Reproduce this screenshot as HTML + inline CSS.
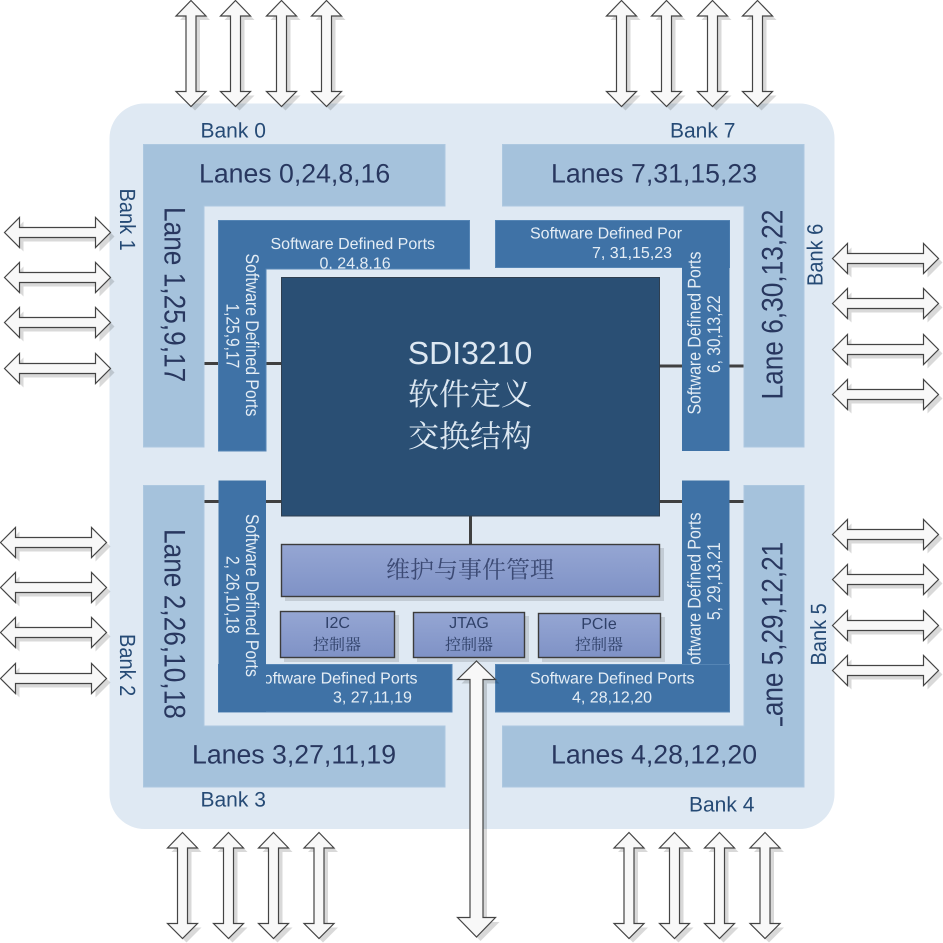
<!DOCTYPE html>
<html><head><meta charset="utf-8">
<style>
html,body{margin:0;padding:0;background:#fff}
svg{display:block}
text{font-family:"Liberation Sans","Noto Sans CJK SC",sans-serif;text-rendering:geometricPrecision}
.lane{font-size:26.67px;fill:#28375f}
.bank{font-size:21px;fill:#254a75}
.bankv{font-size:20px;fill:#254a75}
.port{font-size:16px;fill:#e4edf5}
.cjk{font-family:"Noto Serif CJK SC","Liberation Serif",serif}
.ctl{font-size:16px;fill:#2f4068}
.l{fill:#a5c2dc;stroke:#adc8e0;stroke-width:1}
.p{fill:#3f72a6;stroke:#5585b5;stroke-width:1}
.w{stroke:#404040;stroke-width:3;fill:none}
.b{fill:url(#g);stroke:#3c3c3c;stroke-width:1.4}
.s{fill:#000;opacity:.12}
</style></head>
<body>
<svg width="943" height="943" viewBox="0 0 943 943" xmlns="http://www.w3.org/2000/svg">
<defs>
<linearGradient id="g" x1="0" y1="0" x2="0" y2="1"><stop offset="0" stop-color="#95a6d3"/><stop offset="1" stop-color="#7f92c6"/></linearGradient>
<clipPath id="c0"><rect x="218" y="220" width="252" height="49"/></clipPath>
<path id="ap" d="M0 0L15 15.5L5 15.5L5 91L15 91L0 106L-15 91L-5 91L-5 15.5L-15 15.5Z"/>
<path id="hp" d="M0 0L15 -15V-5H91V-15L106 0L91 15V5H15V15Z"/>
<g id="a"><use href="#ap" x="4" y="4" fill="#000" opacity=".15"/><use href="#ap" fill="#f8f8f8" stroke="#444" stroke-width="1.2"/></g>
<g id="h"><use href="#hp" x="4" y="4" fill="#000" opacity=".15"/><use href="#hp" fill="#f8f8f8" stroke="#444" stroke-width="1.2"/></g>
</defs>

<rect x="109.500" y="103.500" width="725" height="725.500" rx="35" ry="35" fill="#dfe9f3"/>

<!-- connectors -->
<path class="w" d="M204 363.500H281M660 366H744M204 501.500H281M660 501.500H744M470.500 516V545"/>

<!-- lanes -->
<path class="l" d="M143.500 144.500H445V206H204V447H143.500Z"/>
<path class="l" d="M502.500 144.500H804V447H744V206H502.500Z"/>
<path class="l" d="M143.500 485.500H204V726H445V787H143.500Z"/>
<path class="l" d="M744 485.500H804V787H502.500V726H744Z"/>
<text class="lane" x="199" y="182.500">Lanes 0,24,8,16</text>
<text class="lane" x="551" y="182.500">Lanes 7,31,15,23</text>
<text class="lane" x="192" y="763.500">Lanes 3,27,11,19</text>
<text class="lane" x="551" y="763.500">Lanes 4,28,12,20</text>
<text class="lane" transform="translate(164.500,207) rotate(90) scale(.985,1.12)">Lane 1,25,9,17</text>
<text class="lane" transform="translate(164.500,529) rotate(90) scale(.985,1.12)">Lane 2,26,10,18</text>
<text class="lane" transform="translate(782.700,399.500) rotate(-90) scale(.985,1.12)">Lane 6,30,13,22</text>
<clipPath id="c5"><rect x="745" y="485" width="59" height="241"/></clipPath>
<g clip-path="url(#c5)"><text class="lane" transform="translate(782.700,730.700) rotate(-90) scale(.98,1.12)">Lane 5,29,12,21</text></g>

<text class="bank" x="200.500" y="137.500">Bank 0</text>
<text class="bank" x="670" y="137.500">Bank 7</text>
<text class="bank" x="200.500" y="806.500">Bank 3</text>
<text class="bank" x="689" y="811.500">Bank 4</text>
<text class="bankv" transform="translate(120,188.500) rotate(90) scale(1,1.1)">Bank 1</text>
<text class="bankv" transform="translate(120,634) rotate(90) scale(1,1.1)">Bank 2</text>
<text class="bankv" transform="translate(822.500,286) rotate(-90) scale(1,1.1)">Bank 6</text>
<text class="bankv" transform="translate(826,665.500) rotate(-90) scale(1,1.1)">Bank 5</text>

<!-- ports: TL -->
<path class="p" d="M218.500 220.500H469.500V269H266V451H218.500Z"/>
<g clip-path="url(#c0)">
<text class="port" x="270.500" y="249">Software Defined Ports</text>
<text class="port" x="319.500" y="268.500">0, 24,8,16</text>
</g>
<text class="port" transform="translate(246,253.500) rotate(90) scale(.99,1.15)">Software Defined Ports</text>
<text class="port" transform="translate(226.700,303.500) rotate(90) scale(.97,1.15)">1,25,9,17</text>

<!-- ports: TR -->
<rect class="p" x="495.500" y="220.500" width="234" height="47"/>
<text class="port" x="530" y="238.500">Software Defined Ports</text>
<text class="port" x="592" y="258">7, 31,15,23</text>
<path d="M682 221H729.500V451H682Z" class="p" style="stroke:none"/>
<text class="port" transform="translate(700.700,414.500) rotate(-90) scale(.99,1.15)">Software Defined Ports</text>
<text class="port" transform="translate(720,373) rotate(-90) scale(.97,1.15)">6, 30,13,22</text>

<!-- ports: BL -->
<rect class="p" x="218.500" y="664.500" width="233.500" height="47.500"/>
<text class="port" x="253" y="683.500">Software Defined Ports</text>
<text class="port" x="333" y="702.500">3, 27,11,19</text>
<path d="M218.500 480.500H266V712H218.500Z" class="p" style="stroke:none"/>
<text class="port" transform="translate(246,514) rotate(90) scale(.99,1.15)">Software Defined Ports</text>
<text class="port" transform="translate(226.700,556) rotate(90) scale(.97,1.15)">2, 26,10,18</text>

<!-- ports: BR -->
<path d="M682 480.500H729.500V664H682Z" class="p" style="stroke:none"/>
<text class="port" transform="translate(700.700,675.500) rotate(-90) scale(.99,1.15)">Software Defined Ports</text>
<text class="port" transform="translate(720,620) rotate(-90) scale(.97,1.15)">5, 29,13,21</text>
<rect class="p" x="495.500" y="664.500" width="234" height="47.500"/>
<text class="port" x="530" y="683.500">Software Defined Ports</text>
<text class="port" x="572" y="702.500">4, 28,12,20</text>

<!-- core -->
<rect x="281.500" y="277.500" width="378" height="238.500" fill="#2a4f74" stroke="#2f3f50" stroke-width="1"/>
<text x="470" y="364" text-anchor="middle" font-size="32" fill="#dde8f2">SDI3210</text>
<text class="cjk" x="470" y="405" text-anchor="middle" font-size="31" fill="#dde8f2">软件定义</text>
<text class="cjk" x="470" y="447" text-anchor="middle" font-size="31" fill="#dde8f2">交换结构</text>

<!-- maintenance -->
<rect class="s" x="285" y="548" width="379" height="53"/>
<rect class="b" x="281.500" y="544.500" width="378" height="52"/>
<text class="cjk" x="470" y="578" text-anchor="middle" font-size="24" fill="#3c4a74">维护与事件管理</text>

<rect class="s" x="284" y="615" width="115" height="47"/>
<rect class="b" x="280.500" y="611.500" width="114" height="46"/>
<text class="ctl" x="337.500" y="628" text-anchor="middle">I2C</text>
<text class="ctl cjk" x="337" y="650" text-anchor="middle">控制器</text>

<rect class="s" x="417" y="616" width="112" height="46"/>
<rect class="b" x="413.500" y="612.500" width="111" height="45"/>
<text class="ctl" x="469" y="628" text-anchor="middle">JTAG</text>
<text class="ctl cjk" x="469" y="650" text-anchor="middle">控制器</text>

<rect class="s" x="542" y="617" width="123" height="45"/>
<rect class="b" x="538.500" y="613.500" width="122" height="44"/>
<text class="ctl" x="599" y="629" text-anchor="middle">PCIe</text>
<text class="ctl cjk" x="599" y="650" text-anchor="middle">控制器</text>

<!-- JTAG arrow -->
<path d="M480.500 665L499.500 683.500H487V922H499.500L480.500 941L461.500 922H474V683.500H461.500Z" fill="#000" opacity=".15"/>
<path d="M476.500 661L495.500 679.500H483V917.500H495.500L476.500 937L457.500 917.500H470V679.500H457.500Z" fill="#f8f8f8" stroke="#444" stroke-width="1.2"/>

<!-- top arrows -->
<use href="#a" x="191" y="0.500"/><use href="#a" x="235.500" y="0.500"/><use href="#a" x="281.500" y="0.500"/><use href="#a" x="326.500" y="0.500"/>
<use href="#a" x="621.500" y="0.500"/><use href="#a" x="666.500" y="0.500"/><use href="#a" x="712.500" y="0.500"/><use href="#a" x="757.500" y="0.500"/>
<!-- bottom arrows -->
<use href="#a" x="182.500" y="832.500"/><use href="#a" x="228.500" y="832.500"/><use href="#a" x="273.500" y="832.500"/><use href="#a" x="319" y="832.500"/>
<use href="#a" x="629" y="832.500"/><use href="#a" x="674.500" y="832.500"/><use href="#a" x="719.500" y="832.500"/><use href="#a" x="765" y="832.500"/>

<!-- horizontal arrows -->
<use href="#h" x="4.500" y="232.500"/><use href="#h" x="4.500" y="277.500"/><use href="#h" x="4.500" y="322.500"/><use href="#h" x="4.500" y="368.500"/>
<use href="#h" x="0.500" y="542.500"/><use href="#h" x="0.500" y="587.500"/><use href="#h" x="0.500" y="632.500"/><use href="#h" x="0.500" y="678.500"/>
<use href="#h" x="832.500" y="258.500"/><use href="#h" x="832.500" y="303.500"/><use href="#h" x="832.500" y="349.500"/><use href="#h" x="832.500" y="394.500"/>
<use href="#h" x="832.500" y="534.500"/><use href="#h" x="832.500" y="579.500"/><use href="#h" x="832.500" y="625.500"/><use href="#h" x="832.500" y="670.500"/>
</svg>
</body></html>
